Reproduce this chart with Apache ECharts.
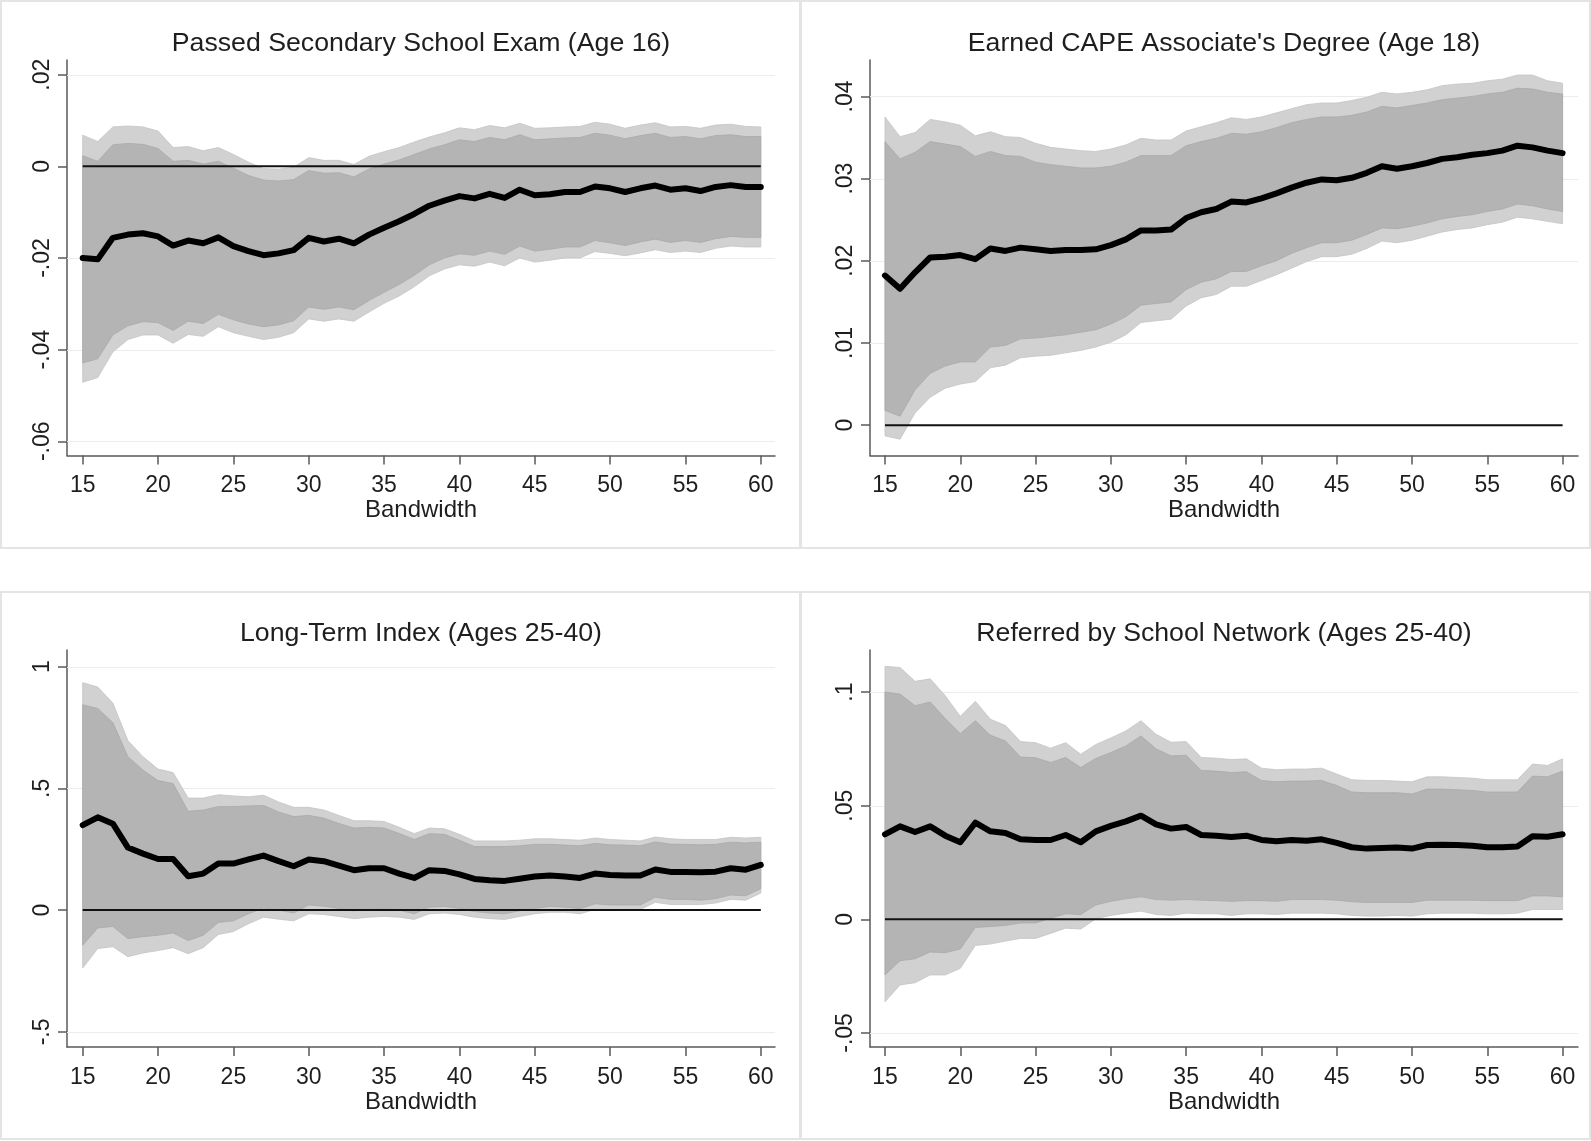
<!DOCTYPE html>
<html><head><meta charset="utf-8">
<script src="https://cdn.jsdelivr.net/npm/echarts@6/dist/echarts.min.js"></script>
<style>html,body{margin:0;padding:0;background:#fff}#c{width:1591px;height:1141px}</style>
</head><body><div id="c"></div><script>
// ---------------- DATA ----------------
const bandwidth = [15,16,17,18,19,20,21,22,23,24,25,26,27,28,29,30,31,32,33,34,35,36,37,38,39,40,41,42,43,44,45,46,47,48,49,50,51,52,53,54,55,56,57,58,59,60];
const xTickValues = [15,20,25,30,35,40,45,50,55,60];
const titles = [
  "Passed Secondary School Exam (Age 16)",
  "Earned CAPE Associate's Degree (Age 18)",
  "Long-Term Index (Ages 25-40)",
  "Referred by School Network (Ages 25-40)"
];
const xAxisTitle = "Bandwidth";

// Panel 1: Passed Secondary School Exam
const examEst  = [-0.0200,-0.0203,-0.0156,-0.0149,-0.0146,-0.0153,-0.0173,-0.0162,-0.0168,-0.0155,-0.0174,-0.0185,-0.0194,-0.0190,-0.0183,-0.0156,-0.0164,-0.0158,-0.0168,-0.0149,-0.0134,-0.0120,-0.0104,-0.0086,-0.0075,-0.0065,-0.0070,-0.0060,-0.0069,-0.0051,-0.0063,-0.0061,-0.0056,-0.0056,-0.0044,-0.0048,-0.0056,-0.0048,-0.0042,-0.0051,-0.0048,-0.0054,-0.0045,-0.0041,-0.0045,-0.0045];
const examUp95 = [0.0068,0.0054,0.0086,0.0088,0.0086,0.0077,0.0041,0.0043,0.0034,0.0041,0.0026,0.0009,-0.0005,-0.0006,-0.0002,0.0019,0.0013,0.0013,0.0004,0.0022,0.0032,0.0041,0.0053,0.0064,0.0073,0.0084,0.0080,0.0089,0.0084,0.0094,0.0083,0.0084,0.0086,0.0087,0.0096,0.0092,0.0083,0.0090,0.0095,0.0086,0.0087,0.0083,0.0090,0.0092,0.0087,0.0086];
const examUp90 = [0.0023,0.0011,0.0047,0.0050,0.0048,0.0039,0.0011,0.0013,0.0005,0.0011,-0.0004,-0.0020,-0.0030,-0.0032,-0.0029,-0.0009,-0.0015,-0.0014,-0.0023,-0.0006,0.0005,0.0014,0.0026,0.0038,0.0047,0.0058,0.0054,0.0063,0.0058,0.0069,0.0058,0.0060,0.0062,0.0063,0.0072,0.0068,0.0060,0.0067,0.0072,0.0063,0.0065,0.0060,0.0067,0.0069,0.0065,0.0065];
const examLo90 = [-0.0429,-0.0420,-0.0368,-0.0348,-0.0339,-0.0341,-0.0358,-0.0338,-0.0343,-0.0323,-0.0335,-0.0344,-0.0350,-0.0346,-0.0337,-0.0307,-0.0312,-0.0307,-0.0313,-0.0293,-0.0275,-0.0258,-0.0238,-0.0215,-0.0200,-0.0191,-0.0194,-0.0185,-0.0192,-0.0174,-0.0185,-0.0181,-0.0176,-0.0176,-0.0162,-0.0167,-0.0173,-0.0165,-0.0159,-0.0166,-0.0162,-0.0166,-0.0158,-0.0153,-0.0155,-0.0155];
const examLo95 = [-0.0471,-0.0461,-0.0405,-0.0378,-0.0368,-0.0368,-0.0386,-0.0367,-0.0371,-0.0350,-0.0363,-0.0371,-0.0378,-0.0373,-0.0363,-0.0333,-0.0338,-0.0333,-0.0338,-0.0318,-0.0299,-0.0283,-0.0263,-0.0239,-0.0224,-0.0215,-0.0218,-0.0209,-0.0217,-0.0200,-0.0209,-0.0205,-0.0200,-0.0200,-0.0186,-0.0190,-0.0195,-0.0189,-0.0182,-0.0188,-0.0185,-0.0188,-0.0179,-0.0174,-0.0176,-0.0176];
const examYTicks = [-0.06,-0.04,-0.02,0,0.02];

// Panel 2: Earned CAPE Associate's Degree
const capeEst  = [0.0182,0.0166,0.0186,0.0204,0.0205,0.0207,0.0202,0.0215,0.0212,0.0216,0.0214,0.0212,0.0213,0.0213,0.0214,0.0219,0.0226,0.0237,0.0237,0.0238,0.0252,0.0259,0.0263,0.0272,0.0271,0.0276,0.0282,0.0289,0.0295,0.0299,0.0298,0.0301,0.0307,0.0315,0.0312,0.0315,0.0319,0.0324,0.0326,0.0329,0.0331,0.0334,0.0340,0.0338,0.0334,0.0331];
const capeUp95 = [0.0375,0.0351,0.0356,0.0372,0.0369,0.0365,0.0352,0.0357,0.0351,0.0350,0.0343,0.0338,0.0336,0.0334,0.0333,0.0336,0.0341,0.0349,0.0347,0.0347,0.0358,0.0363,0.0368,0.0374,0.0372,0.0375,0.0380,0.0385,0.0390,0.0392,0.0392,0.0395,0.0399,0.0405,0.0403,0.0405,0.0408,0.0413,0.0415,0.0416,0.0419,0.0421,0.0426,0.0426,0.0419,0.0416];
const capeUp90 = [0.0345,0.0324,0.0332,0.0345,0.0342,0.0339,0.0327,0.0333,0.0328,0.0327,0.0320,0.0317,0.0315,0.0313,0.0313,0.0315,0.0320,0.0328,0.0328,0.0328,0.0340,0.0345,0.0349,0.0355,0.0354,0.0357,0.0362,0.0368,0.0372,0.0375,0.0375,0.0377,0.0381,0.0388,0.0386,0.0389,0.0392,0.0396,0.0398,0.0400,0.0403,0.0405,0.0410,0.0409,0.0405,0.0403];
const capeLo90 = [0.0018,0.0011,0.0043,0.0063,0.0072,0.0077,0.0077,0.0095,0.0097,0.0105,0.0106,0.0108,0.0110,0.0113,0.0116,0.0123,0.0132,0.0146,0.0148,0.0150,0.0165,0.0174,0.0178,0.0187,0.0187,0.0194,0.0200,0.0209,0.0216,0.0222,0.0222,0.0225,0.0232,0.0240,0.0239,0.0242,0.0246,0.0251,0.0254,0.0256,0.0260,0.0263,0.0269,0.0267,0.0263,0.0260];
const capeLo95 = [-0.0013,-0.0017,0.0015,0.0034,0.0045,0.0050,0.0053,0.0070,0.0073,0.0082,0.0084,0.0085,0.0088,0.0091,0.0095,0.0101,0.0110,0.0125,0.0127,0.0129,0.0145,0.0155,0.0159,0.0169,0.0169,0.0176,0.0183,0.0191,0.0199,0.0205,0.0205,0.0208,0.0215,0.0224,0.0222,0.0225,0.0230,0.0235,0.0238,0.0240,0.0244,0.0247,0.0253,0.0251,0.0248,0.0245];
const capeYTicks = [0,0.01,0.02,0.03,0.04];

// Panel 3: Long-Term Index
const ltiEst  = [0.349,0.381,0.355,0.257,0.232,0.210,0.210,0.139,0.150,0.191,0.191,0.208,0.224,0.201,0.180,0.208,0.201,0.183,0.164,0.172,0.172,0.150,0.132,0.164,0.161,0.147,0.128,0.123,0.120,0.129,0.138,0.142,0.138,0.132,0.150,0.144,0.142,0.142,0.167,0.157,0.157,0.155,0.158,0.172,0.166,0.186];
const ltiUp95 = [0.934,0.916,0.850,0.696,0.630,0.579,0.565,0.460,0.460,0.474,0.469,0.465,0.472,0.444,0.422,0.422,0.411,0.389,0.367,0.367,0.364,0.340,0.314,0.337,0.334,0.311,0.284,0.284,0.284,0.287,0.293,0.293,0.290,0.287,0.296,0.290,0.287,0.284,0.300,0.293,0.290,0.290,0.290,0.299,0.296,0.299];
const ltiUp90 = [0.843,0.828,0.770,0.630,0.575,0.532,0.520,0.406,0.411,0.425,0.425,0.428,0.430,0.403,0.384,0.389,0.378,0.356,0.337,0.340,0.337,0.315,0.290,0.314,0.311,0.287,0.261,0.261,0.261,0.264,0.270,0.270,0.267,0.264,0.274,0.268,0.267,0.264,0.280,0.271,0.270,0.268,0.270,0.279,0.276,0.279];
const ltiLo90 = [-0.144,-0.073,-0.067,-0.117,-0.109,-0.103,-0.094,-0.125,-0.103,-0.051,-0.044,-0.015,0.009,0.000,-0.012,0.021,0.016,0.007,-0.003,0.003,0.006,0.000,-0.015,0.012,0.015,0.007,-0.006,-0.012,-0.015,-0.003,0.007,0.015,0.012,0.006,0.026,0.021,0.021,0.021,0.053,0.044,0.044,0.041,0.047,0.062,0.059,0.088];
const ltiLo95 = [-0.238,-0.158,-0.150,-0.191,-0.176,-0.166,-0.154,-0.179,-0.154,-0.100,-0.088,-0.056,-0.029,-0.037,-0.044,-0.015,-0.018,-0.026,-0.035,-0.029,-0.026,-0.029,-0.038,-0.015,-0.012,-0.018,-0.029,-0.035,-0.038,-0.026,-0.015,-0.009,-0.009,-0.015,0.003,0.000,0.003,0.003,0.032,0.023,0.023,0.023,0.029,0.044,0.041,0.070];
const ltiYTicks = [-0.5,0,0.5,1];

// Panel 4: Referred by School Network
const refEst  = [0.0374,0.0409,0.0384,0.0409,0.0368,0.0339,0.0425,0.0387,0.0380,0.0352,0.0349,0.0349,0.0371,0.0339,0.0387,0.0411,0.0431,0.0456,0.0418,0.0399,0.0406,0.0371,0.0368,0.0362,0.0368,0.0349,0.0343,0.0349,0.0346,0.0352,0.0336,0.0317,0.0311,0.0314,0.0316,0.0311,0.0327,0.0328,0.0327,0.0324,0.0317,0.0317,0.0320,0.0365,0.0363,0.0374];
const refUp95 = [0.1113,0.1108,0.1047,0.1058,0.0984,0.0893,0.0959,0.0880,0.0853,0.0782,0.0777,0.0753,0.0777,0.0726,0.0769,0.0798,0.0829,0.0874,0.0814,0.0779,0.0782,0.0712,0.0709,0.0703,0.0706,0.0665,0.0658,0.0661,0.0661,0.0665,0.0639,0.0614,0.0611,0.0611,0.0608,0.0605,0.0627,0.0627,0.0624,0.0621,0.0614,0.0614,0.0614,0.0683,0.0677,0.0706];
const refUp90 = [0.1000,0.0991,0.0940,0.0956,0.0884,0.0817,0.0874,0.0810,0.0785,0.0714,0.0711,0.0690,0.0712,0.0668,0.0708,0.0734,0.0763,0.0807,0.0750,0.0719,0.0722,0.0655,0.0652,0.0646,0.0649,0.0611,0.0605,0.0608,0.0608,0.0611,0.0589,0.0560,0.0557,0.0557,0.0557,0.0551,0.0573,0.0573,0.0570,0.0567,0.0560,0.0560,0.0560,0.0630,0.0627,0.0652];
const refLo90 = [-0.0245,-0.0182,-0.0174,-0.0144,-0.0147,-0.0131,-0.0036,-0.0032,-0.0027,-0.0016,-0.0016,0.0005,0.0024,0.0021,0.0063,0.0079,0.0090,0.0099,0.0087,0.0084,0.0087,0.0084,0.0082,0.0079,0.0082,0.0082,0.0079,0.0087,0.0087,0.0087,0.0084,0.0077,0.0074,0.0074,0.0074,0.0074,0.0084,0.0084,0.0084,0.0084,0.0082,0.0082,0.0082,0.0103,0.0103,0.0099];
const refLo95 = [-0.0363,-0.0289,-0.0279,-0.0245,-0.0245,-0.0216,-0.0115,-0.0109,-0.0096,-0.0084,-0.0084,-0.0062,-0.0039,-0.0043,0.0002,0.0017,0.0027,0.0036,0.0021,0.0017,0.0027,0.0024,0.0024,0.0017,0.0024,0.0024,0.0021,0.0027,0.0027,0.0027,0.0024,0.0017,0.0014,0.0014,0.0017,0.0014,0.0024,0.0027,0.0027,0.0027,0.0024,0.0024,0.0027,0.0043,0.0043,0.0043];
const refYTicks = [-0.05,0,0.05,0.1];

const referenceLineValue = 0;

// ---------------- LAYOUT / STYLE ----------------
const panels = [
  {est: examEst, up95: examUp95, up90: examUp90, lo90: examLo90, lo95: examLo95, yTicks: examYTicks,
   grid: {left: 67, top: 60, width: 708, height: 395.5}, xMin: 13.958, xMax: 60.942, yMin: -0.0631, yMax: 0.0232},
  {est: capeEst, up95: capeUp95, up90: capeUp90, lo90: capeLo90, lo95: capeLo95, yTicks: capeYTicks,
   grid: {left: 870, top: 60, width: 708, height: 395.5}, xMin: 14.004, xMax: 61.023, yMin: -0.00369, yMax: 0.04443},
  {est: ltiEst, up95: ltiUp95, up90: ltiUp90, lo90: ltiLo90, lo95: ltiLo95, yTicks: ltiYTicks,
   grid: {left: 67, top: 650, width: 708, height: 397}, xMin: 13.958, xMax: 60.942, yMin: -0.562, yMax: 1.068},
  {est: refEst, up95: refUp95, up90: refUp90, lo90: refLo90, lo95: refLo95, yTicks: refYTicks,
   grid: {left: 870, top: 650, width: 708, height: 397}, xMin: 14.004, xMax: 61.023, yMin: -0.0562, yMax: 0.1185}
];

const FONT = "'Liberation Sans', Arial, sans-serif";
const TXT = '#1e1e1e';
const AX = '#5a5a5a';
const LIGHT = '#d1d1d1';
const DARK = '#b4b4b4';

function fmt(v) {
  let s = String(+Number(v).toFixed(4));
  s = s.replace(/^0\./, '.').replace(/^-0\./, '-.');
  return s;
}

const chart = echarts.init(document.getElementById('c'), null, {renderer: 'canvas'});

const grids = [], xAxes = [], yAxes = [], series = [], titleOpts = [];
panels.forEach((p, i) => {
  grids.push(Object.assign({containLabel: false}, p.grid));
  const cx = p.grid.left + p.grid.width / 2 - 5;
  titleOpts.push({
    text: titles[i], left: cx, textAlign: 'center', top: i < 2 ? 25 : 615,
    textStyle: {fontFamily: FONT, fontSize: 26.7, fontWeight: 'normal', color: TXT}
  });
  xAxes.push({
    type: 'value', gridIndex: i, min: p.xMin, max: p.xMax,
    name: xAxisTitle, nameLocation: 'middle', nameGap: 43,
    nameTextStyle: {fontFamily: FONT, fontSize: 24, color: TXT},
    axisLine: {show: true, onZero: false, lineStyle: {color: AX, width: 1.5}},
    axisTick: {show: true, length: 9, customValues: xTickValues, lineStyle: {color: AX, width: 1.5}},
    axisLabel: {customValues: xTickValues, margin: 19, fontFamily: FONT, fontSize: 23, color: TXT, formatter: v => fmt(v)},
    splitLine: {show: false}
  });
  yAxes.push({
    type: 'value', gridIndex: i, min: p.yMin, max: p.yMax,
    axisLine: {show: true, onZero: false, lineStyle: {color: AX, width: 1.5}},
    axisTick: {show: true, length: 9, customValues: p.yTicks, lineStyle: {color: AX, width: 1.5}},
    axisLabel: {customValues: p.yTicks, rotate: 90, margin: 13, fontFamily: FONT, fontSize: 23, color: TXT, formatter: v => fmt(v)},
    splitLine: {show: false}
  });
  // gridlines
  series.push({
    type: 'custom', xAxisIndex: i, yAxisIndex: i, z: 1, silent: true, clip: false,
    data: [[15, 0]],
    renderItem: (params, api) => {
      const children = p.yTicks.filter(v => v !== referenceLineValue).map(v => {
        const a = api.coord([p.xMin, v]), b = api.coord([p.xMax, v]);
        return {type: 'line', shape: {x1: a[0], y1: Math.round(a[1]) + 0.5, x2: b[0], y2: Math.round(b[1]) + 0.5},
                style: {stroke: '#ececec', lineWidth: 1.2}};
      });
      return {type: 'group', children};
    }
  });
  // bands
  const band = (upper, lower, color, z) => ({
    type: 'custom', xAxisIndex: i, yAxisIndex: i, z, silent: true, clip: false,
    data: [[15, 0]],
    renderItem: (params, api) => {
      const pts = [];
      for (let k = 0; k < bandwidth.length; k++) pts.push(api.coord([bandwidth[k], upper[k]]));
      for (let k = bandwidth.length - 1; k >= 0; k--) pts.push(api.coord([bandwidth[k], lower[k]]));
      return {type: 'polygon', shape: {points: pts}, style: {fill: color, stroke: color === LIGHT ? '#c4c4c4' : '#a9a9a9', lineWidth: 0.8}};
    }
  });
  series.push(band(p.up95, p.lo95, LIGHT, 2));
  series.push(band(p.up90, p.lo90, DARK, 3));
  // zero line
  series.push({
    type: 'line', xAxisIndex: i, yAxisIndex: i, z: 4, silent: true, symbol: 'none',
    data: [[bandwidth[0], referenceLineValue], [bandwidth[bandwidth.length - 1], referenceLineValue]],
    lineStyle: {color: '#111', width: 2}
  });
  // estimate
  series.push({
    type: 'line', xAxisIndex: i, yAxisIndex: i, z: 5, silent: true, symbol: 'none',
    data: bandwidth.map((b, k) => [b, p.est[k]]),
    lineStyle: {color: '#000', width: 6, join: 'round', cap: 'round'}
  });
});

const borderStyle = {fill: null, stroke: '#e4e4e4', lineWidth: 2};
chart.setOption({
  animation: false,
  backgroundColor: '#fff',
  title: titleOpts,
  grid: grids,
  xAxis: xAxes,
  yAxis: yAxes,
  series: series,
  graphic: [
    {type: 'rect', shape: {x: 1, y: 1, width: 799, height: 547}, style: borderStyle, silent: true, z: -1},
    {type: 'rect', shape: {x: 801, y: 1, width: 789, height: 547}, style: borderStyle, silent: true, z: -1},
    {type: 'rect', shape: {x: 1, y: 592, width: 799, height: 547}, style: borderStyle, silent: true, z: -1},
    {type: 'rect', shape: {x: 801, y: 592, width: 789, height: 547}, style: borderStyle, silent: true, z: -1}
  ]
});
</script></body></html>
